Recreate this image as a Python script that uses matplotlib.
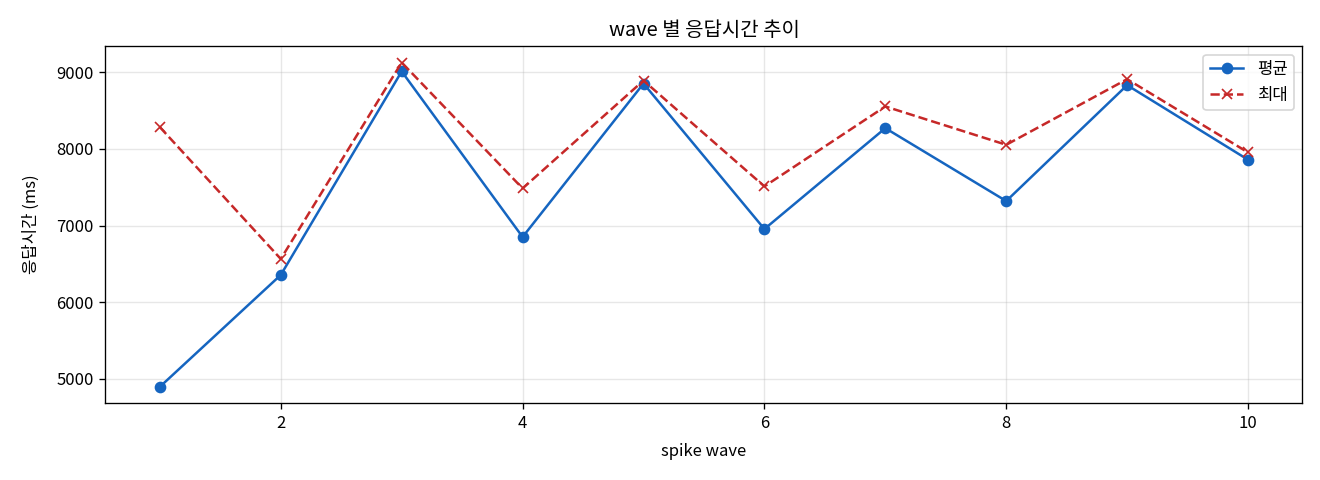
import matplotlib
matplotlib.use("Agg")
import matplotlib.pyplot as plt

plt.rcParams["font.family"] = ["Noto Sans CJK KR", "DejaVu Sans"]
plt.rcParams["axes.unicode_minus"] = False

waves = [1, 2, 3, 4, 5, 6, 7, 8, 9, 10]
avg_ms = [4896, 6355, 9010, 6850, 8852, 6954, 8270, 7319, 8831, 7858]
max_ms = [8283, 6564, 9126, 7484, 8891, 7510, 8553, 8053, 8909, 7953]

fig, ax = plt.subplots(figsize=(11, 4), dpi=120)

ax.plot(waves, avg_ms, "o-", color="#1565C0", linewidth=1.5, markersize=6, label="평균")
ax.plot(waves, max_ms, "x--", color="#C62828", linewidth=1.5, markersize=6, label="최대")

ax.set_title("wave 별 응답시간 추이")
ax.set_xlabel("spike wave", labelpad=7)
ax.set_ylabel("응답시간 (ms)", labelpad=10)
ax.grid(True, alpha=0.3)
ax.legend(loc="upper right")

fig.subplots_adjust(left=0.0799, right=0.9867, top=0.9035, bottom=0.1604)
fig.savefig("out.png", dpi=120)
